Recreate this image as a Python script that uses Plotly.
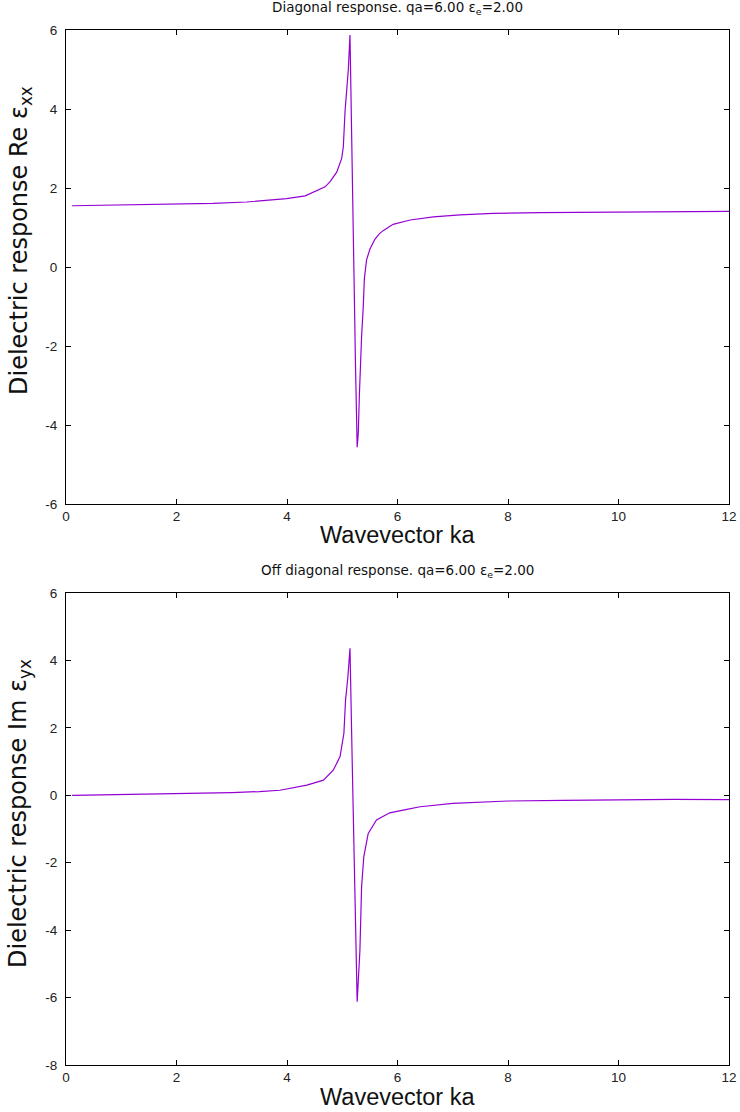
import plotly.graph_objects as go

# Top panel: Re eps_xx vs ka
ka_top = [0.11, 1.0, 1.73, 2.66, 3.27, 3.99, 4.33, 4.55, 4.69, 4.78, 4.90, 4.99, 5.02,
          5.05, 5.08, 5.11, 5.14, 5.17, 5.21, 5.24, 5.27, 5.29, 5.31, 5.33, 5.35, 5.38,
          5.40, 5.44, 5.50, 5.59, 5.67, 5.74, 5.92, 6.23, 6.65, 7.13, 7.73, 8.58, 10.0,
          11.08, 12.0]
re_xx = [1.55, 1.565, 1.58, 1.61, 1.645, 1.73, 1.80, 1.93, 2.03, 2.16, 2.40, 2.75, 3.05,
         3.93, 4.48, 5.00, 5.87, 3.0, 0.0, -2.5, -4.56, -4.21, -3.24, -2.43, -1.76, -1.01,
         -0.30, 0.18, 0.45, 0.70, 0.84, 0.92, 1.08, 1.19, 1.27, 1.32, 1.36, 1.375, 1.385,
         1.39, 1.41]

# Bottom panel: Im eps_yx vs ka
ka_bot = [0.11, 1.0, 2.0, 3.0, 3.5, 3.87, 4.36, 4.66, 4.84, 4.96, 5.03, 5.06, 5.10, 5.14,
          5.18, 5.22, 5.27, 5.32, 5.35, 5.39, 5.47, 5.62, 5.86, 6.17, 6.41, 7.0, 8.0, 9.0,
          10.0, 11.0, 12.0]
im_yx = [0.0, 0.02, 0.04, 0.08, 0.11, 0.15, 0.30, 0.45, 0.75, 1.15, 1.84, 2.83, 3.47, 4.36,
         1.0, -2.5, -6.12, -4.59, -2.71, -1.82, -1.13, -0.73, -0.52, -0.42, -0.34, -0.24,
         -0.17, -0.15, -0.13, -0.12, -0.13]

x_ticks = [0, 2, 4, 6, 8, 10, 12]
x_ticktext = ["0", "2", "4", "6", "8", "10", "12"]
top_yticks = [-6, -4, -2, 0, 2, 4, 6]
top_yticktext = ["-6", "-4", "-2", "0", "2", "4", "6"]
bot_yticks = [-8, -6, -4, -2, 0, 2, 4, 6]
bot_yticktext = ["-8", "-6", "-4", "-2", "0", "2", "4", "6"]

LINE = "#9400D3"
TICKFONT = dict(family="Liberation Sans, Arial", size=13.5, color="#222")

fig = go.Figure()
fig.add_trace(go.Scatter(x=ka_top, y=re_xx, mode="lines", line=dict(color=LINE, width=1.2),
                         xaxis="x", yaxis="y", showlegend=False))
fig.add_trace(go.Scatter(x=ka_bot, y=im_yx, mode="lines", line=dict(color=LINE, width=1.2),
                         xaxis="x2", yaxis="y2", showlegend=False))

axis_common = dict(showgrid=False, zeroline=False, showline=True, linecolor="#000",
                   linewidth=1, mirror="ticks", ticks="inside", ticklen=5,
                   tickcolor="#000", tickfont=TICKFONT)

plot_h = 1065 - 30


def py(Y):
    return (1065 - Y) / plot_h


def px(X):
    return (X - 66) / 663


fig.update_layout(
    width=740, height=1112,
    margin=dict(l=66, r=11, t=30, b=47, autoexpand=False),
    paper_bgcolor="white", plot_bgcolor="white",
    xaxis=dict(domain=[0, 1], range=[0, 12], tickvals=x_ticks, ticktext=x_ticktext,
               anchor="y", **axis_common),
    yaxis=dict(domain=[py(504), 1.0], range=[-6, 6], tickvals=top_yticks, ticktext=top_yticktext,
               anchor="x", ticklabelstandoff=5, **axis_common),
    xaxis2=dict(domain=[0, 1], range=[0, 12], tickvals=x_ticks, ticktext=x_ticktext,
                anchor="y2", **axis_common),
    yaxis2=dict(domain=[0, py(593)], range=[-8, 6], tickvals=bot_yticks, ticktext=bot_yticktext,
                anchor="x2", ticklabelstandoff=5, **axis_common),
)

TITLEFONT = dict(family="DejaVu Sans, Liberation Sans", size=13.5, color="#111")
XTFONT = dict(family="Liberation Sans, Arial", size=23.5, color="#111")
YTFONT = dict(family="DejaVu Sans, Liberation Sans", size=24, color="#111")

annos = [
    dict(text="Diagonal response. qa=6.00 ε<sub>e</sub>=2.00", x=0.5, y=py(8), font=TITLEFONT),
    dict(text="Off diagonal response. qa=6.00 ε<sub>e</sub>=2.00", x=0.5, y=py(571), font=TITLEFONT),
    dict(text="Wavevector ka", x=0.5, y=py(535), font=XTFONT),
    dict(text="Wavevector ka", x=0.5, y=py(1097), font=XTFONT),
    dict(text="Dielectric response Re ε<sub>xx</sub>", x=px(20), y=py(241), font=YTFONT, textangle=-90),
    dict(text="Dielectric response Im ε<sub>yx</sub>", x=px(20), y=py(814), font=YTFONT, textangle=-90),
]
for a in annos:
    fig.add_annotation(xref="paper", yref="paper", showarrow=False,
                       xanchor="center", yanchor="middle", **a)

fig.write_html("out.html", config={"displayModeBar": False},
               post_script="document.body.style.margin='0';document.body.style.overflow='hidden';")
